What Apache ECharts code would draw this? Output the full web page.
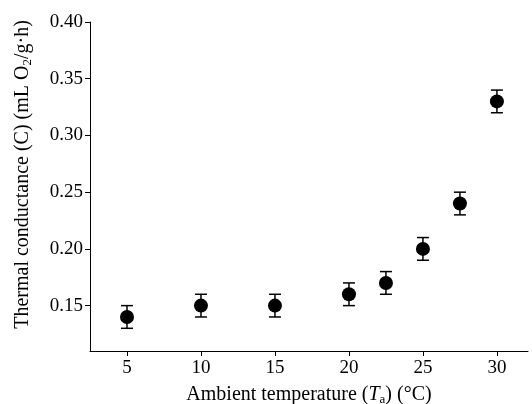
<!DOCTYPE html>
<html>
<head>
<meta charset="utf-8">
<script src="https://cdn.jsdelivr.net/npm/echarts@6/dist/echarts.min.js"></script>
<style>
  html, body { margin: 0; padding: 0; background: #fff; }
  #chart { width: 532px; height: 404px; }
</style>
</head>
<body>
<div id="chart"></div>
<script>
// data
var temps = [5, 10, 15, 20, 22.5, 25, 27.5, 30];
var conductance = [0.14, 0.15, 0.15, 0.16, 0.17, 0.20, 0.24, 0.33];
var errs = [0.01, 0.01, 0.01, 0.01, 0.01, 0.01, 0.01, 0.01];
var xTicks = [5, 10, 15, 20, 25, 30];
var yTicks = [0.15, 0.20, 0.25, 0.30, 0.35, 0.40];

var points = [];
var bars = [];
for (var i = 0; i < temps.length; i++) {
  points.push([temps[i], conductance[i]]);
  bars.push([temps[i], conductance[i] - errs[i], conductance[i] + errs[i]]);
}

var font = 'Liberation Serif';

var chart = echarts.init(document.getElementById('chart'));
chart.setOption({
  animation: false,
  grid: { left: 90, right: 4, top: 22, bottom: 53, outerBoundsMode: 'none' },
  xAxis: {
    type: 'value',
    min: 2.5,
    max: 32.1,
    splitLine: { show: false },
    axisLine: { lineStyle: { color: '#000', width: 1 } },
    axisTick: { customValues: xTicks, length: 5, lineStyle: { color: '#000' } },
    axisLabel: {
      customValues: xTicks,
      color: '#000', fontFamily: font, fontSize: 19, margin: 8
    },
    name: '{n|Ambient temperature (}{i|T}{sub|a}{n|) (°C)}',
    nameLocation: 'middle',
    nameGap: 33,
    nameTextStyle: {
      rich: {
        n: { fontFamily: font, fontSize: 20, color: '#000' },
        i: { fontFamily: font, fontSize: 20, color: '#000', fontStyle: 'italic' },
        sub: { fontFamily: font, fontSize: 13, color: '#000', verticalAlign: 'bottom', padding: [9, 0, 0, 0] }
      }
    }
  },
  yAxis: {
    type: 'value',
    min: 0.11,
    max: 0.40,
    splitLine: { show: false },
    axisLine: { show: true, lineStyle: { color: '#000', width: 1 } },
    axisTick: { show: true, customValues: yTicks, length: 5, lineStyle: { color: '#000' } },
    axisLabel: {
      customValues: yTicks,
      color: '#000', fontFamily: font, fontSize: 19, margin: 7,
      formatter: function (v) { return v.toFixed(2); }
    },
    name: '{n|Thermal conductance (C) (mL O}{sub|2}{n|/g·h)}',
    nameLocation: 'middle',
    nameGap: 56,
    nameTextStyle: {
      padding: [0, 0, 0, 24],
      rich: {
        n: { fontFamily: font, fontSize: 20, color: '#000' },
        sub: { fontFamily: font, fontSize: 13, color: '#000', verticalAlign: 'bottom', padding: [9, 0, 0, 0] }
      }
    }
  },
  series: [
    {
      type: 'custom',
      data: bars,
      encode: { x: 0, y: [1, 2] },
      renderItem: function (params, api) {
        var x = api.value(0);
        var lo = api.coord([x, api.value(1)]);
        var hi = api.coord([x, api.value(2)]);
        var cap = 6;
        var style = { stroke: '#000', lineWidth: 1.5 };
        return {
          type: 'group',
          children: [
            { type: 'line', shape: { x1: lo[0], y1: lo[1], x2: hi[0], y2: hi[1] }, style: style },
            { type: 'line', shape: { x1: lo[0] - cap, y1: lo[1], x2: lo[0] + cap, y2: lo[1] }, style: style },
            { type: 'line', shape: { x1: hi[0] - cap, y1: hi[1], x2: hi[0] + cap, y2: hi[1] }, style: style }
          ]
        };
      },
      z: 1
    },
    {
      type: 'scatter',
      data: points,
      symbol: 'circle',
      symbolSize: 14,
      itemStyle: { color: '#000', opacity: 1 },
      z: 2
    }
  ]
});
</script>
</body>
</html>
